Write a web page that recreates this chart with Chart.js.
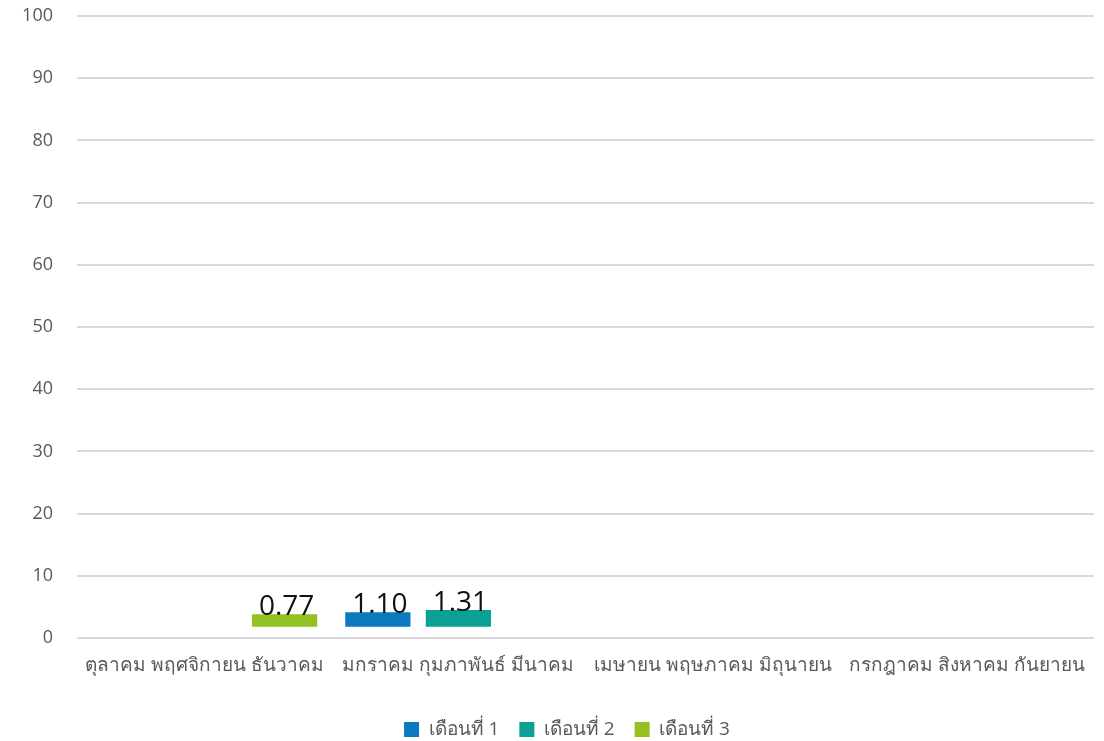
<!DOCTYPE html>
<html>
<head>
    <title>Quarterly chart</title>
    <script src="https://cdn.jsdelivr.net/npm/chart.js"></script>
    <style>
      body { margin: 0; background: #fff; }
      #wrap { width: 1104px; height: 741px; }
    </style>
</head>
<body>
    <div id="wrap"><canvas id="qChart" width="1104" height="741"></canvas></div>

    <script>
    const quarters = ['ตุลาคม พฤศจิกายน ธันวาคม', 'มกราคม กุมภาพันธ์ มีนาคม', 'เมษายน พฤษภาคม มิถุนายน', 'กรกฎาคม สิงหาคม กันยายน'];
    const seriesNames = ['เดือนที่ 1', 'เดือนที่ 2', 'เดือนที่ 3'];

    // printed values
    const month1Values = [null, 1.10, null, null];
    const month2Values = [null, 1.31, null, null];
    const month3Values = [0.77, null, null, null];

    // bar extents as they appear on the axis (floating bars)
    const barBase = 1.8;
    const month1Tops = [null, 4.15, null, null];
    const month2Tops = [null, 4.5, null, null];
    const month3Tops = [3.8, null, null, null];

    const yTicks = [0, 10, 20, 30, 40, 50, 60, 70, 80, 90, 100];

    const colors = ['#0a7abf', '#0aa094', '#93c11f'];
    const font = "'Open Sans', 'Noto Sans', sans-serif";

    function ranges(tops) {
      return tops.map(t => t === null ? null : [barBase, t]);
    }

    const valueLabels = {
      id: 'valueLabels',
      afterDatasetsDraw(chart) {
        const ctx = chart.ctx;
        const printed = [month1Values, month2Values, month3Values];
        ctx.save();
        ctx.font = "28px 'Open Sans', 'Liberation Sans', sans-serif";
        ctx.fillStyle = '#111';
        ctx.textAlign = 'center';
        ctx.textBaseline = 'alphabetic';
        chart.data.datasets.forEach((ds, i) => {
          chart.getDatasetMeta(i).data.forEach((bar, j) => {
            const v = printed[i][j];
            if (v === null) return;
            ctx.fillText(v.toFixed(2), bar.x + 2, bar.y + 1);
          });
        });
        ctx.restore();
      }
    };

    // legend in the reference sits a little right of centre
    const legendShift = {
      id: 'legendShift',
      afterLayout(chart) {
        chart.legend.left += 20;
        chart.legend.right += 20;
      }
    };

    new Chart(document.getElementById('qChart'), {
      type: 'bar',
      data: {
        labels: quarters,
        datasets: [
          { label: seriesNames[0], data: ranges(month1Tops), backgroundColor: colors[0] },
          { label: seriesNames[1], data: ranges(month2Tops), backgroundColor: colors[1] },
          { label: seriesNames[2], data: ranges(month3Tops), backgroundColor: colors[2] }
        ]
      },
      options: {
        responsive: false,
        animation: false,
        layout: { padding: { top: 4, right: 10, left: 0, bottom: -8 } },
        categoryPercentage: 0.95,
        barPercentage: 0.81,
        plugins: {
          legend: {
            position: 'bottom',
            labels: {
              boxWidth: 15, boxHeight: 15, padding: 20,
              color: '#595959',
              font: { family: font, size: 19 }
            }
          },
          tooltip: { enabled: false }
        },
        scales: {
          x: {
            grid: { display: false },
            border: { display: false },
            afterFit: s => { s.height = 62; },
            ticks: { color: '#595959', font: { family: font, size: 19 }, padding: 8, maxRotation: 0 }
          },
          y: {
            min: 0, max: 100,
            afterBuildTicks: s => { s.ticks = yTicks.map(v => ({ value: v })); },
            afterFit: s => { s.width = 77; s.paddingTop = 16; },
            grid: { color: '#d9d9d9', lineWidth: 2, drawTicks: false },
            border: { display: false },
            ticks: { color: '#595959', font: { family: font, size: 18 }, padding: 24 }
          }
        }
      },
      plugins: [valueLabels, legendShift]
    });
    </script>
</body>
</html>
